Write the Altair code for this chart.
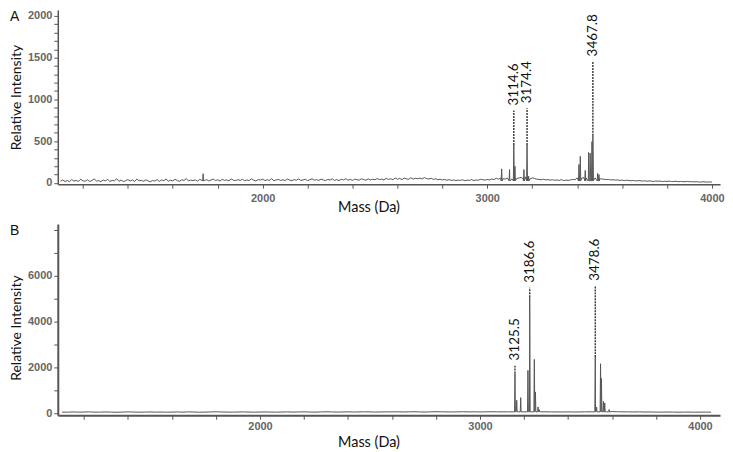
import altair as alt
import pandas as pd

# ---------------- Panel A data ----------------
a_base_start = 1100
a_base_step = 10
a_base_vals = [20, 35, 18, 28, 15, 40, 22, 30, 18, 45, 25, 20, 38, 16, 30, 48, 22, 28, 15, 35,
               24, 42, 18, 30, 26, 50, 20, 34, 16, 28, 40, 22, 36, 18, 46, 26, 30, 20, 38, 24,
               14, 30, 22, 40, 18, 36, 26, 48, 20, 32, 24, 44, 28, 20, 38, 30, 52, 24, 34, 28,
               36, 22, 42, 30, 26, 40, 24, 34, 46, 28, 38, 22, 44, 30, 36, 26, 48, 32, 28, 40,
               30, 44, 26, 36, 28, 50, 32, 24, 40, 34, 46, 28, 38, 30, 52, 26, 36, 42, 30, 38,
               28, 46, 34, 26, 40, 32, 48, 30, 36, 44, 28, 38, 50, 32, 40, 30, 46, 36, 28, 42,
               34, 48, 30, 40, 28, 44, 36, 52, 32, 42, 30, 46, 38, 34, 50, 40, 32, 48, 36, 44,
               38, 52, 40, 46, 36, 56, 42, 50, 38, 60, 44, 54, 40, 58, 48, 44, 62, 46, 56, 50,
               58, 48, 64, 52, 46, 56, 42, 50, 38, 44, 36, 42, 32, 40, 30, 36, 28, 34, 30, 38,
               26, 34, 30, 40, 28, 36, 32, 44, 38, 34, 42, 36, 48, 40, 56, 44, 60, 50, 46, 58,
               62, 48, 70, 52, 58, 66, 50, 72, 56, 48, 60, 54, 46, 42, 38, 44, 36, 40, 34, 38,
               32, 36, 30, 40, 28, 34, 30, 36, 42, 38, 60, 70, 56, 64, 60, 58, 66, 54, 60, 50,
               52, 46, 44, 40, 42, 36, 38, 34, 36, 30, 34, 28, 32, 30, 26, 30, 24, 28, 26, 22,
               26, 20, 24, 22, 18, 24, 20, 22, 16, 20, 18, 22, 16, 18, 20, 14, 18, 16, 14, 18,
               14, 16, 12, 15, 12, 10, 14, 12, 10, 12, 10]
a_peak_mass = [1735, 3064, 3099, 3118, 3123, 3163, 3177, 3184, 3408, 3414, 3436, 3451, 3458, 3466, 3470, 3491, 3497]
a_peak_int = [110, 168, 160, 455, 200, 160, 455, 80, 220, 318, 150, 365, 357, 494, 565, 114, 100]
a_flank = 25
a_label_mass = [3118, 3177, 3470]
a_label_base = [455, 455, 565]
a_label_apex = [867, 894, 1455]
a_label_text = ["3114.6", "3174.4", "3467.8"]

# ---------------- Panel B data ----------------
b_base_start = 1100
b_base_step = 25
b_base_vals = [50, 45, 55, 48, 52, 60, 45, 50, 55, 48, 42, 50, 58, 52, 46, 50, 55, 48, 52, 45,
               50, 55, 48, 60, 52, 45, 50, 56, 62, 55, 50, 48, 52, 58, 50, 46, 52, 55, 50, 48,
               52, 58, 50, 55, 60, 52, 48, 55, 62, 58, 50, 55, 60, 52, 56, 62, 58, 52, 55, 60,
               58, 62, 55, 60, 65, 58, 52, 60, 66, 62, 58, 55, 60, 64, 58, 62, 56, 60, 65, 62,
               60, 62, 58, 64, 60, 66, 70, 64, 60, 58, 56, 55, 58, 54, 56, 60, 62, 66, 64, 60,
               70, 65, 60, 58, 55, 60, 52, 55, 50, 48, 52, 50, 46, 48, 50, 45, 48, 50, 46]
b_peak_mass = [3159, 3167, 3185, 3218, 3226, 3247, 3252, 3264, 3270, 3524, 3530, 3548, 3552, 3561, 3567, 3587]
b_peak_int = [1730, 565, 680, 1870, 5060, 2350, 930, 275, 150, 2450, 270, 2160, 1520, 520, 450, 160]
b_flank = 60
b_label_mass = [3159, 3226, 3524]
b_label_base = [1730, 5060, 2450]
b_label_apex = [2087, 5478, 5565]
b_label_text = ["3125.5", "3186.6", "3478.6"]

# axis ticks
x_ticks = [1200, 1400, 1600, 1800, 2000, 2200, 2400, 2600, 2800, 3000, 3200, 3400, 3600, 3800, 4000]
a_y_ticks = [0, 100, 200, 300, 400, 500, 600, 700, 800, 900, 1000, 1100, 1200, 1300, 1400,
             1500, 1600, 1700, 1800, 1900, 2000]
b_y_ticks = [0, 1000, 2000, 3000, 4000, 5000, 6000, 7000, 8000]

GRAY = "#555555"
LABEL_FONT = "Liberation Sans"
TEXT_FONT = "Lato"


def panel(letter, base_start, base_step, base_vals, pk_mass, pk_int, flank,
          lab_mass, lab_base, lab_apex, lab_text, xdom, ydom, y_ticks, y_label_expr,
          height, axis_w, x_label_pad, x_title_y, y_title_y):
    rows = [(base_start + i * base_step, v) for i, v in enumerate(base_vals)]
    for m, h in zip(pk_mass, pk_int):
        rows += [(m - 2, flank), (m, h), (m + 2, flank)]
    spec = pd.DataFrame(rows, columns=["mass", "intensity"]).sort_values("mass")
    labs = pd.DataFrame({"mass": lab_mass, "base": lab_base, "apex": lab_apex, "label": lab_text})

    xscale = alt.Scale(domain=xdom, nice=False, zero=False)
    yscale = alt.Scale(domain=ydom, nice=False, zero=False)
    xaxis = alt.Axis(values=x_ticks,
                     labelExpr="datum.value % 1000 === 0 ? format(datum.value, 'd') : ''",
                     title="Mass (Da)", titleX=312, titleY=x_title_y, titleBaseline="middle",
                     titleFont=TEXT_FONT, titleFontSize=14.5,
                     titleFontWeight="normal", titleColor="#111",
                     labelFont=LABEL_FONT, labelFontWeight="bold", labelFontSize=11,
                     labelColor="#666", labelPadding=x_label_pad, tickSize=4, tickColor=GRAY,
                     tickWidth=1, domainColor=GRAY, domainWidth=axis_w, grid=False,
                     labelFlush=False, labelOverlap=False)
    yaxis = alt.Axis(values=y_ticks, labelExpr=y_label_expr,
                     title="Relative Intensity", titleY=y_title_y, titleFont=TEXT_FONT, titleFontSize=14,
                     titleFontWeight="normal", titleColor="#111", titlePadding=2,
                     minExtent=32, maxExtent=32,
                     labelFont=LABEL_FONT, labelFontWeight="bold", labelFontSize=11,
                     labelColor="#666", labelPadding=2, tickSize=4, tickColor=GRAY,
                     tickWidth=1, domainColor=GRAY, domainWidth=axis_w, grid=False,
                     labelFlush=False, labelOverlap=False)

    line = alt.Chart(spec).mark_line(color=GRAY, strokeWidth=1, clip=True).encode(
        x=alt.X("mass:Q", scale=xscale, axis=xaxis),
        y=alt.Y("intensity:Q", scale=yscale, axis=yaxis),
        order="mass:Q",
    )
    dots = alt.Chart(labs).mark_rule(color="#333333", strokeWidth=1.4, strokeDash=[2, 1]).encode(
        x=alt.X("mass:Q", scale=xscale, axis=xaxis),
        y=alt.Y("base:Q", scale=yscale, axis=yaxis),
        y2="apex:Q")
    text = alt.Chart(labs).mark_text(angle=270, align="left", baseline="middle", dx=5,
                                     font=TEXT_FONT, fontSize=13.5, color="#111").encode(
        x=alt.X("mass:Q", scale=xscale, axis=xaxis),
        y=alt.Y("apex:Q", scale=yscale, axis=yaxis),
        text="label:N")
    letter_mark = alt.Chart(pd.DataFrame({"t": [letter]})).mark_text(
        align="left", baseline="top", font=LABEL_FONT, fontSize=14, color="#111").encode(
        x=alt.value(-48), y=alt.value(0), text="t:N")
    return alt.layer(line, dots, text, letter_mark).properties(width=665, height=height)


pa = panel("A", a_base_start, a_base_step, a_base_vals, a_peak_mass, a_peak_int, a_flank,
           a_label_mass, a_label_base, a_label_apex, a_label_text,
           [1088, 4036], [-15, 2071], a_y_ticks,
           "datum.value % 500 === 0 ? format(datum.value, 'd') : ''", 175, 1.5, 4, 23, alt.Undefined)
pb = panel("B", b_base_start, b_base_step, b_base_vals, b_peak_mass, b_peak_int, b_flank,
           b_label_mass, b_label_base, b_label_apex, b_label_text,
           [1081, 4091], [-87, 8260], b_y_ticks,
           "datum.value % 2000 === 0 && datum.value < 8000 ? format(datum.value, 'd') : ''", 192, 2, 1,
           27, 104)

chart = alt.vconcat(pa, pb, spacing=9).properties(
    padding={"left": 2, "top": 0, "right": 0, "bottom": 0}
).configure_view(stroke=None)

chart.save("out.html", embed_options={"renderer": "svg", "actions": False})
